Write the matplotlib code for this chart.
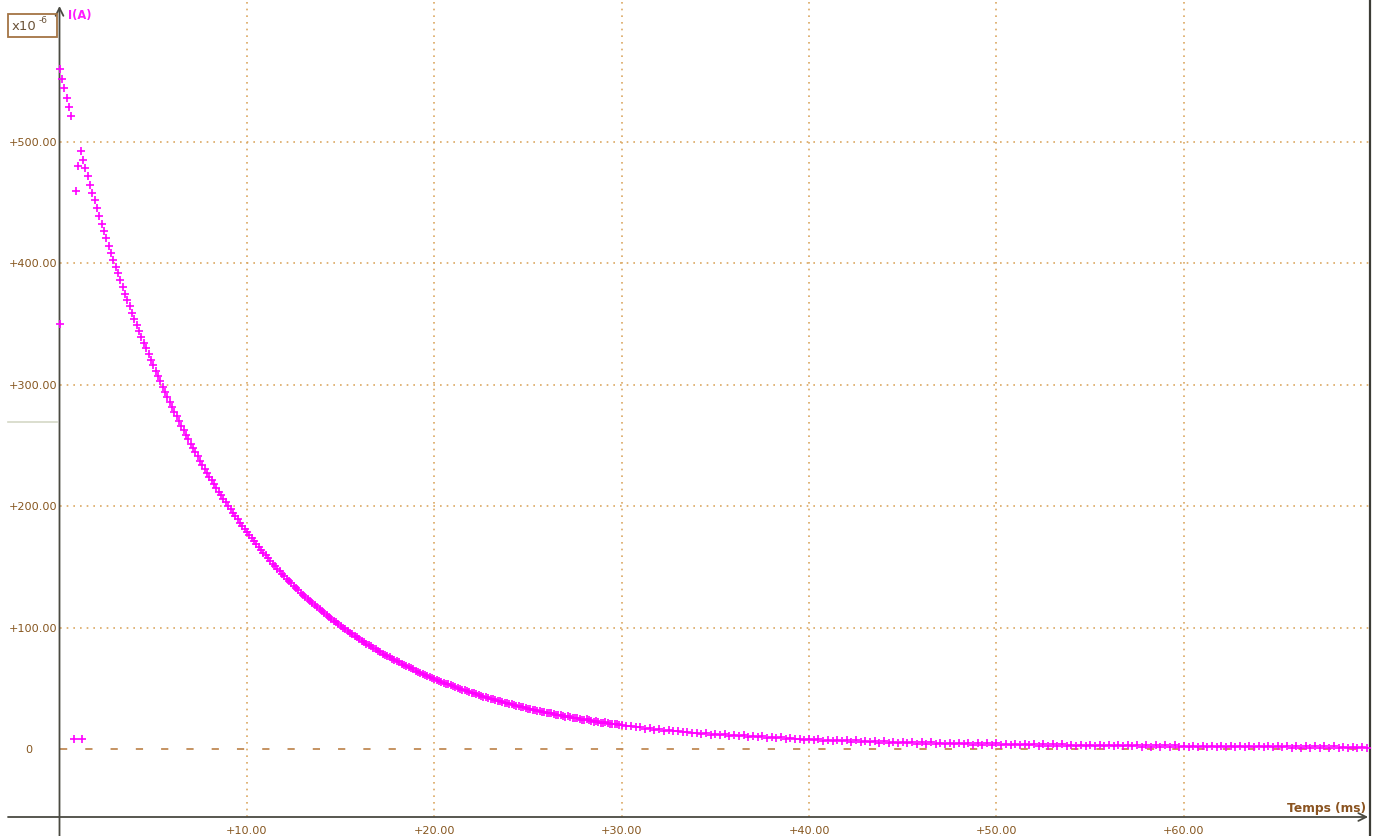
import numpy as np
import matplotlib
matplotlib.use("Agg")
from matplotlib import pyplot as plt
from matplotlib.patches import Rectangle

# courant i(t) en 1e-6 A, lu sur la courbe
# de 0 a 9.875 ms par pas de 0.125 ms
i_a = [559.8, 551.8, 544.0, 536.3, 528.6, 521.1, 8.0, 459.0,
       480.0, 492.1, 485.1, 478.2, 471.4, 464.7, 458.1, 451.6,
       445.2, 438.9, 432.6, 426.5, 420.4, 414.5, 408.6, 402.8,
       397.1, 391.5, 385.9, 380.4, 375.0, 369.7, 364.4, 359.3,
       354.1, 349.2, 344.2, 339.3, 334.5, 329.8, 325.0, 320.5,
       315.9, 311.4, 307.0, 302.7, 298.3, 294.1, 289.9, 285.9,
       281.8, 277.8, 273.9, 270.0, 266.1, 262.4, 258.7, 255.0,
       251.4, 247.8, 244.3, 240.9, 237.4, 234.1, 230.8, 227.5,
       224.3, 221.1, 218.0, 214.9, 211.9, 208.9, 205.9, 203.0,
       200.1, 197.3, 194.5, 191.8, 189.1, 186.4, 183.8, 181.2]

# de 10 a 29.875 ms par pas de 0.125 ms
i_b = [178.6, 176.1, 173.6, 171.1, 168.7, 166.3, 164.0, 161.7,
       159.4, 157.1, 154.9, 152.7, 150.6, 148.5, 146.4, 144.3,
       142.3, 140.3, 138.3, 136.3, 134.4, 132.5, 130.7, 128.8,
       127.0, 125.2, 123.5, 121.7, 120.0, 118.3, 116.7, 115.0,
       113.4, 111.8, 110.3, 108.7, 107.2, 105.7, 104.2, 102.7,
       101.3, 99.9, 98.5, 97.1, 95.8, 94.4, 93.1, 91.8,
       90.5, 89.2, 88.0, 86.8, 85.6, 84.4, 83.2, 82.0,
       80.9, 79.7, 78.6, 77.5, 76.5, 75.4, 74.3, 73.3,
       72.3, 71.3, 70.3, 69.3, 68.4, 67.4, 66.5, 65.5,
       64.6, 63.7, 62.9, 62.0, 61.1, 60.2, 59.4, 58.6,
       57.8, 57.0, 56.2, 55.4, 54.7, 53.9, 53.2, 52.4,
       51.7, 51.0, 50.3, 49.6, 48.9, 48.2, 47.6, 46.9,
       46.3, 45.7, 45.1, 44.4, 43.8, 43.2, 42.6, 42.0,
       41.5, 40.9, 40.4, 39.8, 39.3, 38.7, 38.2, 37.7,
       37.2, 36.7, 36.2, 35.7, 35.2, 34.7, 34.3, 33.8,
       33.3, 32.9, 32.4, 32.0, 31.6, 31.1, 30.7, 30.3,
       29.9, 29.5, 29.3, 28.6, 28.1, 28.3, 27.8, 27.0,
       26.7, 26.9, 26.4, 25.6, 25.3, 25.5, 25.0, 24.2,
       23.9, 24.3, 23.8, 23.0, 22.6, 23.1, 22.6, 21.8,
       21.4, 21.9, 21.5, 20.7, 20.4, 20.8, 20.3, 19.8]

# de 30 a 70 ms par pas de 0.25 ms
i_c = [19.8, 18.8, 18.9, 17.8, 17.9, 16.8, 17.0, 16.0,
       16.2, 15.2, 15.4, 14.5, 14.7, 13.7, 14.2, 13.1,
       13.4, 12.4, 13.2, 11.9, 12.5, 11.6, 12.2, 11.1,
       11.7, 10.6, 11.3, 10.0, 10.8, 9.5, 10.3, 9.2,
       9.9, 8.7, 9.6, 8.4, 9.2, 7.9, 8.6, 7.5,
       8.5, 7.2, 8.1, 6.8, 7.7, 6.5, 7.6, 6.4,
       7.2, 6.0, 7.0, 5.7, 6.8, 5.5, 6.5, 5.3,
       6.3, 5.1, 6.0, 5.0, 5.9, 4.6, 5.7, 4.5,
       5.6, 4.4, 5.4, 4.2, 5.3, 3.9, 5.2, 3.9,
       5.0, 3.8, 4.9, 3.6, 4.8, 3.4, 4.7, 3.4,
       4.6, 3.3, 4.4, 3.1, 4.3, 3.0, 4.3, 2.9,
       4.1, 2.8, 4.0, 2.7, 3.9, 2.6, 3.8, 2.6,
       3.7, 2.5, 3.6, 2.4, 3.5, 2.3, 3.4, 2.3,
       3.3, 2.2, 3.3, 2.1, 3.2, 2.1, 3.1, 2.0,
       3.1, 2.0, 3.0, 1.9, 3.0, 1.8, 2.9, 1.8,
       2.8, 1.7, 2.8, 1.7, 2.7, 1.6, 2.6, 1.6,
       2.6, 1.5, 2.6, 1.5, 2.5, 1.4, 2.5, 1.4,
       2.4, 1.4, 2.4, 1.3, 2.3, 1.3, 2.3, 1.2,
       2.2, 1.2, 2.2, 1.2, 2.2, 1.1, 2.1, 1.1,
       2.1, 1.1, 2.0, 1.0, 2.0, 1.0, 2.0, 1.0,
       1.9]

# points parasites hors grille
extra_t = [0.02, 1.18]
extra_i = [350.0, 8.0]

x_ticks = [10, 20, 30, 40, 50, 60]
y_ticks = [100, 200, 300, 400, 500]

n_fast = len(i_a) + len(i_b)
t = np.concatenate([np.arange(n_fast) * 0.125,
                    n_fast * 0.125 + np.arange(len(i_c)) * 0.25])
i = np.array(i_a + i_b + i_c)
keep = t <= 69.9
t, i = t[keep], i[keep]

plt.rcParams['font.family'] = ['DejaVu Sans']

W, H = 1379, 837
fig = plt.figure(figsize=(W / 100, H / 100), dpi=100)
ax = fig.add_axes([0, 0, 1, 1])

# echelle en pixels de la capture
x0, sx = 59.5, 18.74
y0, sy = 750, 1.2146
ax.set_xlim(-x0 / sx, (W - x0) / sx)
ax.set_ylim(-(H - y0) / sy, y0 / sy)
ax.axis('off')


def px(x, y):
    return (x - x0) / sx, (y0 - y) / sy


y_top = px(0, 7)[1]
y_axis = px(0, 818)[1]
y_bot = px(0, H)[1]
x_left = px(8, 0)[0]
x_right = px(1370, 0)[0]

brown = '#86561f'
grid_c = '#dba862'
fs = 8.1

for xt in x_ticks:
    ax.plot([xt, xt], [y_axis, px(0, 0)[1]], color=grid_c, lw=1.2,
            linestyle=(0, (1, 3.0)), zorder=1)
    ax.text(xt, px(0, 831)[1], '+%.2f' % xt, color=brown,
            fontsize=fs, ha='center', va='center')
for yt in y_ticks:
    ax.plot([0, x_right], [yt, yt], color=grid_c, lw=1.2,
            linestyle=(0, (1, 3.0)), zorder=1)
    ax.text(px(33, 0)[0], yt, '+%.2f' % yt, color=brown,
            fontsize=fs, ha='center', va='center')
ax.text(px(29, 0)[0], 0, '0', color=brown, fontsize=fs,
        ha='center', va='center')

# ligne du zero
ax.plot([0, x_right], [0, 0], color='#c08a55', lw=1.3,
        linestyle=(0, (4, 10)), zorder=1)

# trait gris du curseur
ax.plot([x_left, px(57, 0)[0]], [px(0, 423)[1]] * 2, color='#d4d8c6', lw=1.2)

# axes
ax.annotate('', xy=(0, y_top), xytext=(0, y_bot),
            arrowprops=dict(arrowstyle='->', color='#4a4a42', lw=1.3,
                            mutation_scale=14, shrinkA=0, shrinkB=0))
ax.annotate('', xy=(x_right - 0.1, y_axis), xytext=(x_left, y_axis),
            arrowprops=dict(arrowstyle='->', color='#4a4a42', lw=1.3,
                            mutation_scale=14, shrinkA=0, shrinkB=0))
ax.plot([x_right, x_right], [y_bot, px(0, 0)[1]], color='#3c3c36', lw=1.6)

# mesures
ax.plot(t, i, '+', color='#ff00ff', ms=5.5, mew=1.2, zorder=3)
ax.plot(extra_t, extra_i, '+', color='#ff00ff', ms=5.5, mew=1.2, zorder=3)

ax.text(px(68, 0)[0], px(0, 16)[1], 'I(A)', color='#ff1aff', fontsize=8.3,
        fontweight='bold', ha='left', va='center')
ax.text(px(1366, 0)[0], px(0, 809)[1], 'Temps (ms)', color='#8a5320',
        fontsize=8.8, fontweight='bold', ha='right', va='center')

# cadre du facteur d'echelle
bx0, by0 = px(8, 38)
bx1, by1 = px(57, 15)
ax.add_patch(Rectangle((bx0, by0), bx1 - bx0, by1 - by0, fill=False,
                       ec='#a47444', lw=1.3, zorder=4))
ax.text(px(12, 0)[0], px(0, 27)[1], 'x10', color='#6a5238', fontsize=9.5,
        ha='left', va='center')
ax.text(px(39, 0)[0], px(0, 21)[1], '-6', color='#6a5238', fontsize=6.5,
        ha='left', va='center')

fig.savefig('out.png', dpi=100)
